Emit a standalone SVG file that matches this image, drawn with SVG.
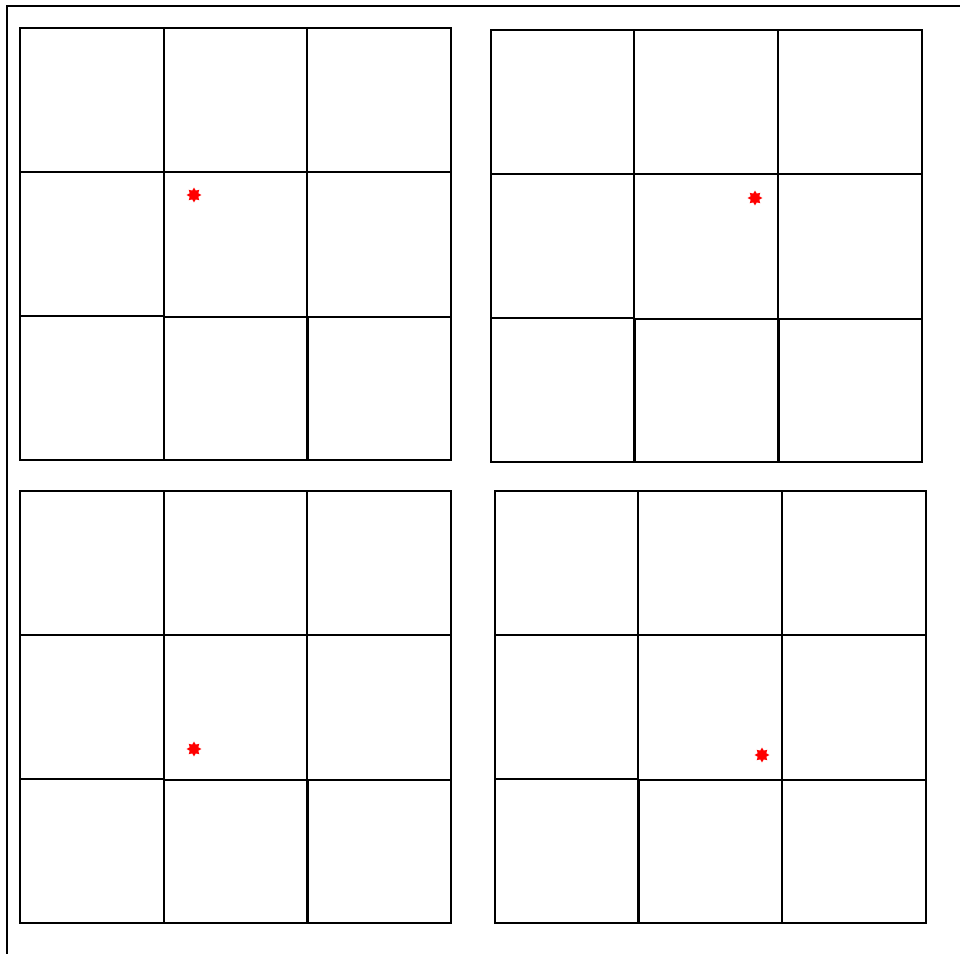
<svg xmlns="http://www.w3.org/2000/svg" xmlns:xlink="http://www.w3.org/1999/xlink" width="960" height="954" viewBox="0 0 960 954">
<style>
.c{fill:none;stroke:#000;stroke-width:2}
.s{fill:#ff0000}
</style>
<defs>
<polygon id="star" points="0,-7.5 1.8,-4.4 5.3,-5.3 4.4,-1.8 7.5,0 4.4,1.8 5.3,5.3 1.8,4.4 0,7.5 -1.8,4.4 -5.3,5.3 -4.4,1.8 -7.5,0 -4.4,-1.8 -5.3,-5.3 -1.8,-4.4"/>
</defs>
<rect width="960" height="954" fill="#fff"/>
<path d="M7,954 V6 H960" class="c"/>
<g id="grid1">
<rect class="c" x="20" y="28" width="144" height="144"/>
<rect class="c" x="164" y="28" width="143" height="144"/>
<rect class="c" x="307" y="28" width="144" height="144"/>
<rect class="c" x="20" y="172" width="144" height="144"/>
<rect class="c" x="164" y="172" width="143" height="145"/>
<rect class="c" x="307" y="172" width="144" height="145"/>
<rect class="c" x="20" y="316" width="144" height="144"/>
<rect class="c" x="164" y="317" width="143" height="143"/>
<rect class="c" x="308" y="317" width="143" height="143"/>
<use xlink:href="#star" class="s" x="194" y="195"/>
</g>
<g id="grid2">
<rect class="c" x="491" y="30" width="143" height="144"/>
<rect class="c" x="634" y="30" width="144" height="144"/>
<rect class="c" x="778" y="30" width="144" height="144"/>
<rect class="c" x="491" y="174" width="143" height="144"/>
<rect class="c" x="634" y="174" width="144" height="145"/>
<rect class="c" x="778" y="174" width="144" height="145"/>
<rect class="c" x="491" y="318" width="143" height="144"/>
<rect class="c" x="635" y="319" width="143" height="143"/>
<rect class="c" x="779" y="319" width="143" height="143"/>
<use xlink:href="#star" class="s" x="755" y="198"/>
</g>
<g id="grid3">
<rect class="c" x="20" y="491" width="144" height="144"/>
<rect class="c" x="164" y="491" width="143" height="144"/>
<rect class="c" x="307" y="491" width="144" height="144"/>
<rect class="c" x="20" y="635" width="144" height="144"/>
<rect class="c" x="164" y="635" width="143" height="145"/>
<rect class="c" x="307" y="635" width="144" height="145"/>
<rect class="c" x="20" y="779" width="144" height="144"/>
<rect class="c" x="164" y="780" width="143" height="143"/>
<rect class="c" x="308" y="780" width="143" height="143"/>
<use xlink:href="#star" class="s" x="194" y="749"/>
</g>
<g id="grid4">
<rect class="c" x="495" y="491" width="143" height="144"/>
<rect class="c" x="638" y="491" width="144" height="144"/>
<rect class="c" x="782" y="491" width="144" height="144"/>
<rect class="c" x="495" y="635" width="143" height="144"/>
<rect class="c" x="638" y="635" width="144" height="145"/>
<rect class="c" x="782" y="635" width="144" height="145"/>
<rect class="c" x="495" y="779" width="143" height="144"/>
<rect class="c" x="639" y="780" width="143" height="143"/>
<rect class="c" x="782" y="780" width="144" height="143"/>
<use xlink:href="#star" class="s" x="762" y="755"/>
</g>
<g id="connectors"/>
</svg>
